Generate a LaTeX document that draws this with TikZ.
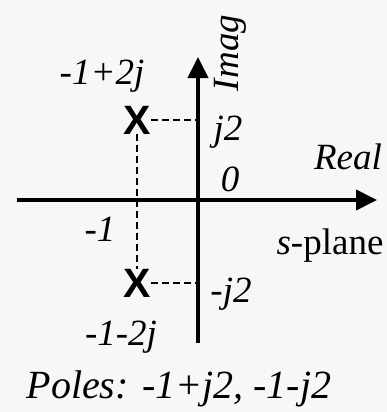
\documentclass[tikz,border=0pt]{standalone}
\usepackage{fontspec}
\newfontfamily\tnr{Liberation Serif}
\newfontfamily\arl{Liberation Sans}
\usetikzlibrary{arrows.meta}
\begin{document}
\begin{tikzpicture}[x=1pt,y=-1pt,
  lbl/.style={inner sep=0pt,font=\tnr\fontsize{37}{40}\selectfont\itshape},
  pole/.style={inner sep=0pt,font=\arl\fontsize{41}{42}\selectfont\bfseries},
  axis/.style={line width=4pt,-{Triangle[length=21pt,width=20pt]}},
  guide/.style={line width=1.3pt,dash pattern=on 7pt off 4pt}]
\fill[white!97!black] (0,0) rectangle (387,412);
\useasboundingbox (0,0) rectangle (387,412);
\coordinate (xl) at (17,200);
\coordinate (xr) at (377,200);
\coordinate (yb) at (198,343);
\coordinate (yt) at (198,57);
\draw[axis] (xl) -- (xr);
\draw[axis] (yb) -- (yt);
\node[pole] (p1) at (137,120) {X};
\node[pole] (p2) at (137,283) {X};
\coordinate (c1) at (196,120);
\coordinate (c2) at (196,283);
\draw[guide] (p1.east) -- (c1);
\draw[guide] (p2.east) -- (c2);
\draw[guide] (p1.south) -- (p2.north);
\node[lbl] (l1) at (102,76) {-1+2j};
\node[lbl,rotate=90] (im) at (230,53) {Imag};
\node[lbl] (j2) at (228,132) {j2};
\node[lbl] (re) at (348,157) {Real};
\node[lbl] (z) at (230,179) {0};
\node[lbl] (m1) at (100,229) {-1};
\node[inner sep=0pt,font=\tnr\fontsize{37}{40}\selectfont] (sp) at (330,246) {\textit{s}-plane};
\node[lbl] (mj2) at (231,294) {-j2};
\node[lbl] (l2) at (121,337) {-1-2j};
\node[lbl,font=\tnr\fontsize{40}{42}\selectfont\itshape] (po) at (179,389) {Poles: -1+j2, -1-j2};
\end{tikzpicture}
\end{document}
